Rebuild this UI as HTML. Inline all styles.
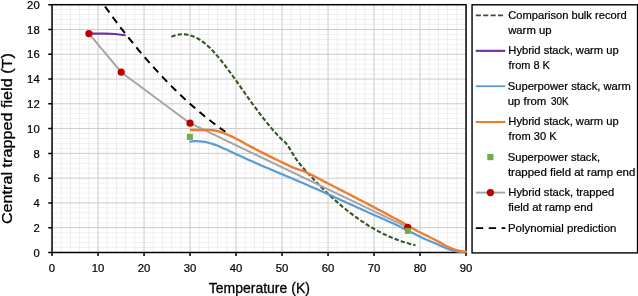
<!DOCTYPE html>
<html lang="en"><head><meta charset="utf-8"><title>Central trapped field vs temperature</title>
<style>html,body{margin:0;padding:0;background:#fff;}svg{display:block;}text{font-family:"Liberation Sans",sans-serif;fill:#000;}</style></head><body>
<svg width="638" height="296" viewBox="0 0 638 296">
<rect width="638" height="296" fill="#fff"/>
<path d="M52.05 247.54H466.05M52.05 242.59H466.05M52.05 237.63H466.05M52.05 232.68H466.05M52.05 222.76H466.05M52.05 217.81H466.05M52.05 212.85H466.05M52.05 207.90H466.05M52.05 197.98H466.05M52.05 193.03H466.05M52.05 188.07H466.05M52.05 183.12H466.05M52.05 173.20H466.05M52.05 168.25H466.05M52.05 163.29H466.05M52.05 158.34H466.05M52.05 148.42H466.05M52.05 143.47H466.05M52.05 138.51H466.05M52.05 133.56H466.05M52.05 123.64H466.05M52.05 118.69H466.05M52.05 113.73H466.05M52.05 108.78H466.05M52.05 98.86H466.05M52.05 93.91H466.05M52.05 88.95H466.05M52.05 84.00H466.05M52.05 74.08H466.05M52.05 69.13H466.05M52.05 64.17H466.05M52.05 59.22H466.05M52.05 49.30H466.05M52.05 44.35H466.05M52.05 39.39H466.05M52.05 34.44H466.05M52.05 24.52H466.05M52.05 19.57H466.05M52.05 14.61H466.05M52.05 9.66H466.05" stroke="#f1f1f1" stroke-width="1" fill="none"/>
<path d="M61.25 4.70V252.50M70.45 4.70V252.50M79.65 4.70V252.50M88.85 4.70V252.50M107.25 4.70V252.50M116.45 4.70V252.50M125.65 4.70V252.50M134.85 4.70V252.50M153.25 4.70V252.50M162.45 4.70V252.50M171.65 4.70V252.50M180.85 4.70V252.50M199.25 4.70V252.50M208.45 4.70V252.50M217.65 4.70V252.50M226.85 4.70V252.50M245.25 4.70V252.50M254.45 4.70V252.50M263.65 4.70V252.50M272.85 4.70V252.50M291.25 4.70V252.50M300.45 4.70V252.50M309.65 4.70V252.50M318.85 4.70V252.50M337.25 4.70V252.50M346.45 4.70V252.50M355.65 4.70V252.50M364.85 4.70V252.50M383.25 4.70V252.50M392.45 4.70V252.50M401.65 4.70V252.50M410.85 4.70V252.50M429.25 4.70V252.50M438.45 4.70V252.50M447.65 4.70V252.50M456.85 4.70V252.50" stroke="#ececec" stroke-width="1" fill="none"/>
<path d="M98.05 4.70V252.50M144.05 4.70V252.50M190.05 4.70V252.50M236.05 4.70V252.50M282.05 4.70V252.50M328.05 4.70V252.50M374.05 4.70V252.50M420.05 4.70V252.50M52.05 227.72H466.05M52.05 202.94H466.05M52.05 178.16H466.05M52.05 153.38H466.05M52.05 128.60H466.05M52.05 103.82H466.05M52.05 79.04H466.05M52.05 54.26H466.05M52.05 29.48H466.05" stroke="#cbcbcb" stroke-width="1" fill="none"/>
<rect x="52.05" y="4.70" width="414.00" height="247.80" fill="none" stroke="#000" stroke-width="1.5"/>
<path d="M52.05 252.50v3.6M98.05 252.50v3.6M144.05 252.50v3.6M190.05 252.50v3.6M236.05 252.50v3.6M282.05 252.50v3.6M328.05 252.50v3.6M374.05 252.50v3.6M420.05 252.50v3.6M466.05 252.50v3.6M52.05 252.50h-3.8M52.05 227.72h-3.8M52.05 202.94h-3.8M52.05 178.16h-3.8M52.05 153.38h-3.8M52.05 128.60h-3.8M52.05 103.82h-3.8M52.05 79.04h-3.8M52.05 54.26h-3.8M52.05 29.48h-3.8M52.05 4.70h-3.8" stroke="#000" stroke-width="1.5" fill="none"/>
<path d="M171.4 36.7L173.4 35.9L175.4 35.3L177.4 34.8L179.4 34.5L181.4 34.3L183.4 34.3L185.4 34.4L187.4 34.7L189.4 35.1L191.4 35.7L193.4 36.4L195.4 37.3L197.4 38.3L199.5 39.5L201.5 40.8L203.5 42.3L205.5 43.9L207.5 45.7L209.5 47.5L211.5 49.5L213.5 51.6L215.5 53.8L217.5 56.1L219.5 58.5L221.5 61.0L223.5 63.5L225.5 66.1L227.5 68.8L229.5 71.5L231.5 74.2L233.5 77.0L235.5 79.8L237.5 82.6L239.5 85.5L241.5 88.3L243.5 91.2L245.5 94.0L247.5 96.9L249.5 99.7L251.5 102.5L253.5 105.3L255.6 108.0L257.6 110.7L259.6 113.4L261.6 116.0L263.6 118.6L265.6 121.1L267.6 123.6L269.6 126.0L271.6 128.4L273.6 130.7L275.6 132.9L277.6 135.1L279.6 137.3L281.6 139.4L283.6 140.8L285.7 142.8L287.7 145.4L289.7 148.6L291.7 152.0L293.8 155.4L295.8 158.5L297.8 161.4L299.9 164.0L301.9 166.5L303.9 168.8L305.9 171.1L308.0 173.3L310.0 175.5L312.0 177.6L314.1 179.8L316.1 181.9L318.1 183.9L320.1 186.0L322.2 188.0L324.2 190.0L326.2 192.0L328.3 194.0L330.3 195.9L332.3 197.7L334.3 199.6L336.4 201.4L338.4 203.2L340.4 204.9L342.5 206.7L344.5 208.3L346.5 210.0L348.6 211.6L350.6 213.2L352.6 214.7L354.6 216.2L356.7 217.7L358.7 219.1L360.7 220.5L362.8 221.9L364.8 223.2L366.8 224.5L368.8 225.8L370.9 227.0L372.9 228.2L374.9 229.4L377.0 230.5L379.0 231.6L381.0 232.6L383.0 233.7L385.1 234.6L387.1 235.6L389.1 236.5L391.2 237.4L393.2 238.2L395.2 239.0L397.2 239.8L399.3 240.5L401.3 241.2L403.3 241.9L405.4 242.5L407.4 243.1L409.4 243.7L411.4 244.2L413.5 244.7L415.5 245.2" stroke="#375623" stroke-width="2.1" stroke-dasharray="4.4 2.1" fill="none" stroke-linejoin="round"/>
<path d="M105.0 6.5L109.2 12.2L113.3 17.9L117.5 23.4L121.6 28.9L125.8 34.2L129.9 39.4L134.1 44.6L138.2 49.6L142.4 54.5L146.5 59.3L150.7 64.1L154.8 68.7L159.0 73.2L163.1 77.6L167.3 81.9L171.4 86.1L175.6 90.2L179.7 94.2L183.9 98.2L188.0 102.0L192.2 105.7L196.3 109.3L200.5 112.8L204.6 116.2L208.8 119.5L212.9 122.7L217.1 125.9L221.2 128.9L225.4 131.8" stroke="#000" stroke-width="2.0" stroke-dasharray="7.4 5.5" fill="none"/>
<path d="M88.9 33.6L105.0 33.6L115.0 34.0L124.8 35.2" stroke="#7030a0" stroke-width="2.1" fill="none" stroke-linecap="round"/>
<path d="M190.3 141.6L192.3 141.4L194.3 141.2L196.3 141.2L198.3 141.3L200.4 141.4L202.4 141.6L204.4 141.8L206.4 142.2L208.4 142.7L210.4 143.2L212.4 143.9L214.4 144.6L216.5 145.3L218.5 146.1L220.5 147.0L222.5 147.9L224.5 148.7L226.5 149.6L228.5 150.5L230.5 151.5L232.6 152.4L234.6 153.4L236.6 154.4L238.6 155.3L240.6 156.2L242.6 157.1L244.6 158.1L246.6 159.0L248.7 159.9L250.7 160.8L252.7 161.6L254.7 162.5L256.7 163.4L258.7 164.3L260.7 165.2L262.7 166.0L264.8 166.9L266.8 167.8L268.8 168.6L270.8 169.5L272.8 170.3L274.8 171.2L276.8 172.0L278.8 172.9L280.9 173.7L282.9 174.5L284.9 175.4L286.9 176.2L288.9 177.1L290.9 178.0L292.9 178.8L294.9 179.7L297.0 180.5L299.0 181.4L301.0 182.3L303.0 183.1L305.0 184.0L307.0 184.9L309.0 185.8L311.0 186.7L313.1 187.5L315.1 188.4L317.1 189.3L319.1 190.2L321.1 191.1L323.1 192.0L325.1 192.9L327.1 193.8L329.2 194.7L331.2 195.6L333.2 196.5L335.2 197.4L337.2 198.3L339.2 199.2L341.2 200.2L343.2 201.1L345.3 202.0L347.3 202.9L349.3 203.8L351.3 204.7L353.3 205.6L355.3 206.5L357.3 207.4L359.3 208.3L361.4 209.3L363.4 210.2L365.4 211.1L367.4 212.0L369.4 212.9L371.4 213.8L373.4 214.7L375.4 215.5L377.5 216.4L379.5 217.3L381.5 218.2L383.5 219.1L385.5 220.0L387.5 220.9L389.5 221.8L391.5 222.7L393.6 223.6L395.6 224.6L397.6 225.5L399.6 226.4L401.6 227.4L403.6 228.4L405.6 229.4L407.6 230.5L409.7 231.5L411.7 232.6L413.7 233.6L415.7 234.6L417.7 235.6L419.7 236.6L421.7 237.6L423.7 238.6L425.8 239.5L427.8 240.3L429.8 241.1L431.8 241.9L433.8 242.7L435.8 243.6L437.8 244.4L439.8 245.4L441.9 246.3L443.9 247.2L445.9 248.1L447.9 248.9L449.9 249.6L451.9 250.3L453.9 250.9L455.9 251.2L458.0 251.6L460.0 251.8L462.0 251.9L464.0 252.0L466.0 252.0" stroke="#5b9bd5" stroke-width="2.2" fill="none" stroke-linecap="round" stroke-linejoin="round"/>
<path d="M88.9 33.6L121.2 72.2L190.0 123.2L407.7 227.4" stroke="#a5a5a5" stroke-width="2.0" fill="none" stroke-linejoin="round"/>
<path d="M191.0 130.0L193.0 130.0L195.0 130.0L197.0 130.0L199.0 130.0L201.0 130.0L203.0 130.0L205.1 129.9L207.1 129.9L209.1 129.9L211.1 130.1L213.1 130.3L215.1 130.6L217.1 130.9L219.1 131.5L221.1 132.2L223.1 132.9L225.1 133.7L227.1 134.5L229.1 135.3L231.1 136.2L233.2 137.2L235.2 138.2L237.2 139.2L239.2 140.3L241.2 141.4L243.2 142.5L245.2 143.7L247.2 144.7L249.2 145.8L251.2 146.9L253.2 147.9L255.2 149.0L257.2 150.0L259.2 151.0L261.3 152.1L263.3 153.1L265.3 154.1L267.3 155.1L269.3 156.1L271.3 157.1L273.3 158.1L275.3 159.1L277.3 160.0L279.3 161.0L281.3 162.0L283.3 162.9L285.3 163.9L287.4 164.9L289.4 165.8L291.4 166.8L293.4 167.7L295.4 168.5L297.4 169.2L299.4 169.7L301.4 170.3L303.4 171.0L305.4 171.9L307.4 172.9L309.4 173.9L311.4 174.9L313.4 175.9L315.5 176.9L317.5 177.9L319.5 179.0L321.5 180.0L323.5 181.1L325.5 182.1L327.5 183.2L329.5 184.2L331.5 185.2L333.5 186.3L335.5 187.3L337.5 188.3L339.5 189.4L341.5 190.4L343.6 191.4L345.6 192.5L347.6 193.5L349.6 194.5L351.6 195.5L353.6 196.6L355.6 197.6L357.6 198.7L359.6 199.7L361.6 200.7L363.6 201.8L365.6 202.8L367.6 203.9L369.6 204.9L371.7 206.0L373.7 207.1L375.7 208.1L377.7 209.2L379.7 210.2L381.7 211.3L383.7 212.4L385.7 213.4L387.7 214.5L389.7 215.6L391.7 216.7L393.7 217.8L395.7 218.8L397.8 219.9L399.8 221.0L401.8 222.1L403.8 223.3L405.8 224.4L407.8 225.5L409.8 226.7L411.8 227.9L413.8 229.0L415.8 230.1L417.8 231.2L419.8 232.2L421.8 233.2L423.8 234.2L425.9 235.2L427.9 236.2L429.9 237.2L431.9 238.2L433.9 239.2L435.9 240.2L437.9 241.3L439.9 242.4L441.9 243.6L443.9 244.7L445.9 245.8L447.9 246.8L449.9 247.7L451.9 248.6L454.0 249.3L456.0 250.0L458.0 250.5L460.0 251.0L462.0 251.4L464.0 251.7L466.0 251.8" stroke="#ed7d31" stroke-width="2.4" fill="none" stroke-linecap="round" stroke-linejoin="round"/>
<circle cx="88.9" cy="33.6" r="3.6" fill="#c00000"/>
<circle cx="121.2" cy="72.2" r="3.6" fill="#c00000"/>
<circle cx="190.0" cy="123.2" r="3.6" fill="#c00000"/>
<circle cx="407.7" cy="227.4" r="3.6" fill="#c00000"/>
<rect x="186.9" y="133.9" width="6" height="6" fill="#70ad47"/>
<rect x="404.8" y="227.9" width="6" height="6" fill="#70ad47"/>
<text x="52.0" y="272.4" font-size="11.3" text-anchor="middle" stroke="#000" stroke-width="0.22">0</text>
<text x="98.0" y="272.4" font-size="11.3" text-anchor="middle" stroke="#000" stroke-width="0.22">10</text>
<text x="144.1" y="272.4" font-size="11.3" text-anchor="middle" stroke="#000" stroke-width="0.22">20</text>
<text x="190.1" y="272.4" font-size="11.3" text-anchor="middle" stroke="#000" stroke-width="0.22">30</text>
<text x="236.1" y="272.4" font-size="11.3" text-anchor="middle" stroke="#000" stroke-width="0.22">40</text>
<text x="282.0" y="272.4" font-size="11.3" text-anchor="middle" stroke="#000" stroke-width="0.22">50</text>
<text x="328.1" y="272.4" font-size="11.3" text-anchor="middle" stroke="#000" stroke-width="0.22">60</text>
<text x="374.1" y="272.4" font-size="11.3" text-anchor="middle" stroke="#000" stroke-width="0.22">70</text>
<text x="420.1" y="272.4" font-size="11.3" text-anchor="middle" stroke="#000" stroke-width="0.22">80</text>
<text x="466.0" y="272.4" font-size="11.3" text-anchor="middle" stroke="#000" stroke-width="0.22">90</text>
<text x="39.7" y="256.6" font-size="11.3" text-anchor="end" stroke="#000" stroke-width="0.22">0</text>
<text x="39.7" y="231.8" font-size="11.3" text-anchor="end" stroke="#000" stroke-width="0.22">2</text>
<text x="39.7" y="207.0" font-size="11.3" text-anchor="end" stroke="#000" stroke-width="0.22">4</text>
<text x="39.7" y="182.3" font-size="11.3" text-anchor="end" stroke="#000" stroke-width="0.22">6</text>
<text x="39.7" y="157.5" font-size="11.3" text-anchor="end" stroke="#000" stroke-width="0.22">8</text>
<text x="39.7" y="132.7" font-size="11.3" text-anchor="end" stroke="#000" stroke-width="0.22">10</text>
<text x="39.7" y="107.9" font-size="11.3" text-anchor="end" stroke="#000" stroke-width="0.22">12</text>
<text x="39.7" y="83.1" font-size="11.3" text-anchor="end" stroke="#000" stroke-width="0.22">14</text>
<text x="39.7" y="58.4" font-size="11.3" text-anchor="end" stroke="#000" stroke-width="0.22">16</text>
<text x="39.7" y="33.6" font-size="11.3" text-anchor="end" stroke="#000" stroke-width="0.22">18</text>
<text x="39.7" y="8.8" font-size="11.3" text-anchor="end" stroke="#000" stroke-width="0.22">20</text>
<text x="259.3" y="293.1" font-size="14.4" text-anchor="middle" textLength="101.2" lengthAdjust="spacingAndGlyphs" stroke="#000" stroke-width="0.3">Temperature (K)</text>
<text transform="translate(12.1 138.6) rotate(-90)" font-size="14.4" text-anchor="middle" textLength="171" lengthAdjust="spacingAndGlyphs" stroke="#000" stroke-width="0.3">Central trapped field (T)</text>
<rect x="472.05" y="4.8" width="165.5" height="248.1" fill="#fff" stroke="#000" stroke-width="1.4"/>
<text x="508.28" y="18.70" font-size="11.0" textLength="118.37" lengthAdjust="spacingAndGlyphs" stroke="#000" stroke-width="0.22">Comparison bulk record</text>
<text x="508.17" y="33.60" font-size="11.0" textLength="43.41" lengthAdjust="spacingAndGlyphs" stroke="#000" stroke-width="0.22">warm up</text>
<text x="508.33" y="54.25" font-size="11.0" textLength="110.30" lengthAdjust="spacingAndGlyphs" stroke="#000" stroke-width="0.22">Hybrid stack, warm up</text>
<text x="508.45" y="69.15" font-size="11.0" textLength="41.40" lengthAdjust="spacingAndGlyphs" stroke="#000" stroke-width="0.22">from 8 K</text>
<text x="507.74" y="89.80" font-size="11.0" textLength="123.12" lengthAdjust="spacingAndGlyphs" stroke="#000" stroke-width="0.22">Superpower stack, warm</text>
<text y="104.70" font-size="11.0" stroke="#000" stroke-width="0.22"><tspan x="507.80" textLength="38.50" lengthAdjust="spacingAndGlyphs">up from</tspan> <tspan x="550.90" textLength="17.65" lengthAdjust="spacingAndGlyphs">30K</tspan></text>
<text x="508.33" y="125.35" font-size="11.0" textLength="110.30" lengthAdjust="spacingAndGlyphs" stroke="#000" stroke-width="0.22">Hybrid stack, warm up</text>
<text x="508.59" y="140.25" font-size="11.0" textLength="48.06" lengthAdjust="spacingAndGlyphs" stroke="#000" stroke-width="0.22">from 30 K</text>
<text x="507.75" y="160.90" font-size="11.0" textLength="92.38" lengthAdjust="spacingAndGlyphs" stroke="#000" stroke-width="0.22">Superpower stack,</text>
<text x="507.95" y="175.80" font-size="11.0" textLength="127.40" lengthAdjust="spacingAndGlyphs" stroke="#000" stroke-width="0.22">trapped field at ramp end</text>
<text x="508.30" y="196.45" font-size="11.0" textLength="105.96" lengthAdjust="spacingAndGlyphs" stroke="#000" stroke-width="0.22">Hybrid stack, trapped</text>
<text x="508.21" y="211.35" font-size="11.0" textLength="84.69" lengthAdjust="spacingAndGlyphs" stroke="#000" stroke-width="0.22">field at ramp end</text>
<text x="508.00" y="232.00" font-size="11.0" textLength="108.31" lengthAdjust="spacingAndGlyphs" stroke="#000" stroke-width="0.22">Polynomial prediction</text>
<path d="M475.8 15.35H503.4" stroke="#375623" stroke-width="1.85" stroke-dasharray="5.1 2.3" fill="none"/>
<path d="M475.8 50.85H505.3" stroke="#7030a0" stroke-width="2.1" fill="none"/>
<path d="M475.8 86.25H505.3" stroke="#5b9bd5" stroke-width="1.8" fill="none"/>
<path d="M475.8 122.00H505.3" stroke="#ed7d31" stroke-width="2.1" fill="none"/>
<rect x="487.25" y="154.00" width="6.2" height="6.2" fill="#70ad47"/>
<path d="M475.8 192.60H505.3" stroke="#a5a5a5" stroke-width="1.9" fill="none"/>
<circle cx="490.4" cy="192.60" r="3.7" fill="#c00000"/>
<path d="M475.8 228.05H505.3" stroke="#000" stroke-width="1.8" stroke-dasharray="7.4 5.5" fill="none"/>
</svg></body></html>
